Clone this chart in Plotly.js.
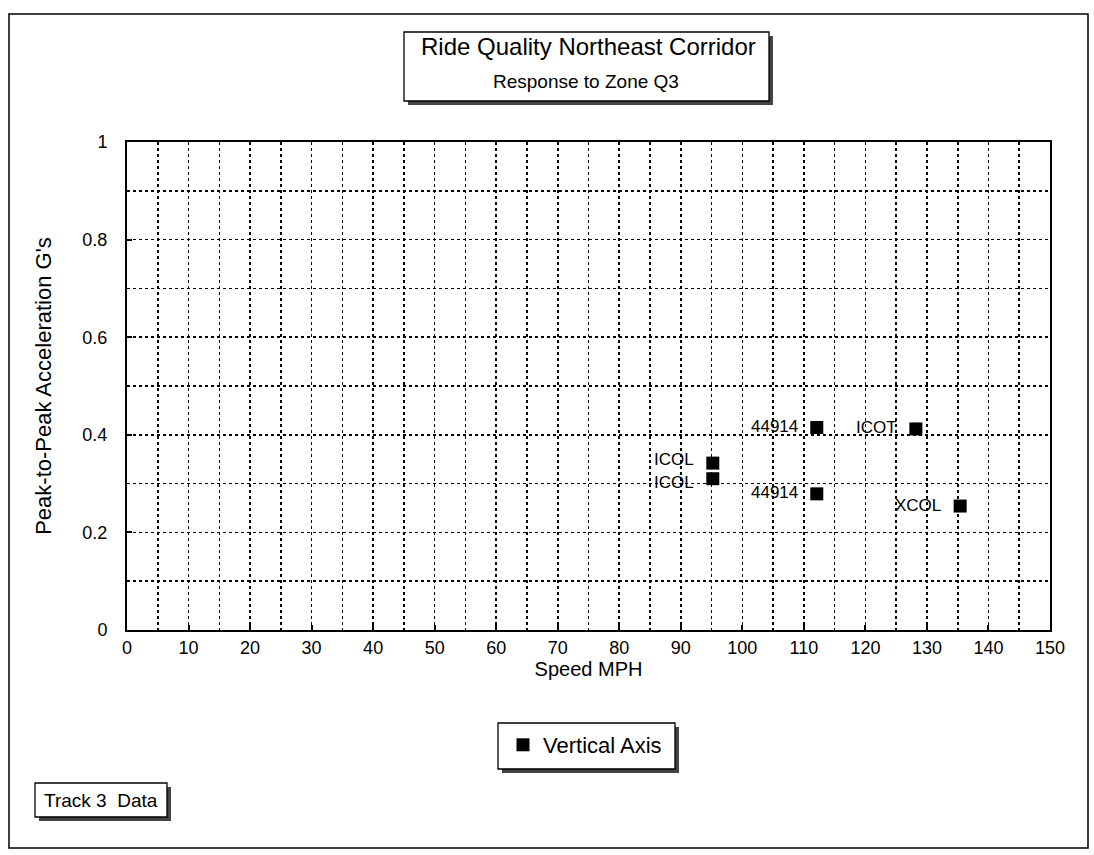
<!DOCTYPE html>
<html>
<head>
<meta charset="utf-8">
<script src="https://cdn.plot.ly/plotly-3.0.1.min.js"></script>
<style>html,body{margin:0;padding:0;background:#fff;}#chart{width:1094px;height:855px;}</style>
</head>
<body>
<div id="chart"></div>
<script>
// ---- data ----
const labels = ["44914", "ICOT", "ICOL", "ICOL", "44914", "XCOL"];
const speedMPH = [112.1, 128.2, 95.2, 95.2, 112.1, 135.4];
const peakAccel = [0.415, 0.412, 0.342, 0.310, 0.279, 0.254];
const seriesName = "Vertical Axis";
const chartTitle = "Ride Quality Northeast Corridor";
const chartSubtitle = "Response to Zone Q3";
const xTitle = "Speed MPH";
const yTitle = "Peak-to-Peak Acceleration G's";
const noteText = "Track 3  Data";

// ---- layout helpers (pixel -> paper) ----
const L = 127, R = 1050, T = 142, B = 630;
const px = p => (p - L) / (R - L);
const py = p => (B - p) / (B - T);
const FONT = "Arial, 'Liberation Sans', sans-serif";

function boxWithShadow(x0, y0, x1, y1, off) {
  return [
    {type: "rect", xref: "paper", yref: "paper", x0: px(x0 + off), x1: px(x1 + off), y0: py(y0 + off), y1: py(y1 + off),
     fillcolor: "#444", line: {width: 0}, layer: "above"},
    {type: "rect", xref: "paper", yref: "paper", x0: px(x0), x1: px(x1), y0: py(y0), y1: py(y1),
     fillcolor: "#fff", line: {color: "#000", width: 1.3}, layer: "above"}
  ];
}

const shapes = [
  // outer frame
  {type: "rect", xref: "paper", yref: "paper", x0: px(9), x1: px(1088), y0: py(14), y1: py(848),
   fillcolor: "rgba(0,0,0,0)", line: {color: "#000", width: 1.5}, layer: "below"},
  ...boxWithShadow(404, 32, 769, 101, 4),
  ...boxWithShadow(498, 723, 675, 769, 4),
  ...boxWithShadow(35, 783, 167, 817, 4)
];

// point labels: placed left of each marker; labels of stacked points are pushed apart
const pointLabels = labels.map((t, i) => {
  let ys = 1;
  speedMPH.forEach((x, j) => {
    if (j !== i && Math.abs(x - speedMPH[i]) < 1 && Math.abs(peakAccel[j] - peakAccel[i]) < 0.05) {
      ys = peakAccel[i] > peakAccel[j] ? 4 : -4;
    }
  });
  return {xref: "x", yref: "y", x: speedMPH[i], y: peakAccel[i], text: t, showarrow: false,
          xanchor: "right", yanchor: "middle", xshift: -18, yshift: ys, borderpad: 0,
          font: {family: FONT, size: 17, color: "#000"}};
});

const annotations = [
  {xref: "paper", yref: "paper", x: px(588), y: py(47), text: chartTitle, showarrow: false,
   xanchor: "center", yanchor: "middle", font: {family: FONT, size: 24, color: "#000"}},
  {xref: "paper", yref: "paper", x: px(586), y: py(82), text: chartSubtitle, showarrow: false,
   xanchor: "center", yanchor: "middle", font: {family: FONT, size: 19, color: "#000"}},
  {xref: "paper", yref: "paper", x: px(101), y: py(800), text: noteText, showarrow: false,
   xanchor: "center", yanchor: "middle", font: {family: FONT, size: 19, color: "#000"}},
  ...pointLabels
];

const trace = {
  type: "scatter",
  mode: "markers",
  name: seriesName,
  x: speedMPH,
  y: peakAccel,
  text: labels,
  marker: {symbol: "square", size: 13, color: "#000"},
  cliponaxis: false,
  hoverinfo: "x+y+text"
};

const layout = {
  width: 1094, height: 855,
  paper_bgcolor: "#fff", plot_bgcolor: "#fff",
  margin: {l: L, r: 1094 - R, t: T, b: 855 - B, pad: 0},
  font: {family: FONT, color: "#000", size: 16},
  showlegend: true,
  legend: {
    x: px(503), y: py(724), xanchor: "left", yanchor: "top",
    orientation: "h", entrywidth: 170,
    bgcolor: "rgba(0,0,0,0)", borderwidth: 0,
    font: {family: FONT, size: 22, color: "#000"}
  },
  xaxis: {
    range: [0, 150], dtick: 10, tick0: 0,
    showgrid: true, gridcolor: "#000", gridwidth: 1.6, griddash: "dot",
    minor: {dtick: 5, showgrid: true, gridcolor: "#000", gridwidth: 1.6, griddash: "dot"},
    showline: true, linecolor: "#000", linewidth: 2, mirror: true,
    ticks: "inside", ticklen: 5, tickcolor: "#000", tickwidth: 2,
    zeroline: false,
    tickfont: {family: FONT, size: 18, color: "#000"},
    title: {text: xTitle, font: {family: FONT, size: 20, color: "#000"}, standoff: 4}
  },
  yaxis: {
    range: [0, 1], dtick: 0.2, tick0: 0,
    showgrid: true, gridcolor: "#000", gridwidth: 1.6, griddash: "dot",
    minor: {dtick: 0.1, showgrid: true, gridcolor: "#000", gridwidth: 1.6, griddash: "dot"},
    showline: true, linecolor: "#000", linewidth: 2, mirror: true,
    ticks: "inside", ticklen: 5, tickcolor: "#000", tickwidth: 2,
    zeroline: false,
    ticklabelstandoff: 14,
    tickfont: {family: FONT, size: 18, color: "#000"},
    title: {text: yTitle, font: {family: FONT, size: 22, color: "#000"}, standoff: 25}
  },
  shapes: shapes,
  annotations: annotations
};

Plotly.newPlot("chart", [trace], layout, {displayModeBar: false, staticPlot: true});
</script>
</body>
</html>
